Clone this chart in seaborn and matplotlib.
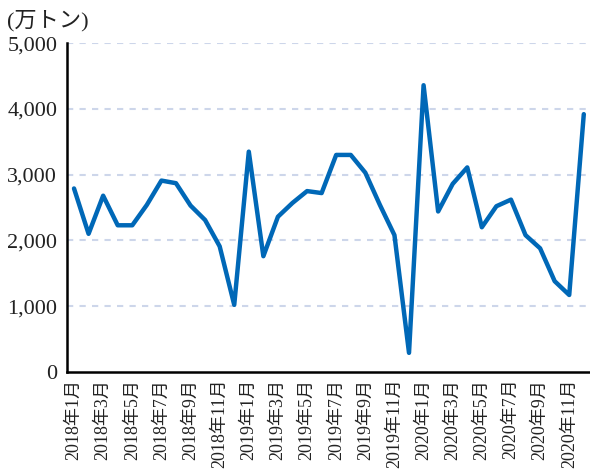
import matplotlib
matplotlib.use("Agg")
import matplotlib.pyplot as plt
import seaborn as sns
import pandas as pd

# monthly values, 2018/1 - 2020/12 (万トン)
months = [f"{y}年{m}月" for y in (2018, 2019, 2020) for m in range(1, 13)]
values = [2790, 2100, 2680, 2230, 2230, 2540, 2910, 2870, 2530, 2310, 1910, 1020,
          3350, 1760, 2360, 2570, 2750, 2720, 3300, 3300, 3030, 2540, 2080, 290,
          4360, 2440, 2860, 3110, 2200, 2520, 2620, 2080, 1880, 1380, 1170, 3920]
yticks = [0, 1000, 2000, 3000, 4000, 5000]
unit_label = "(万トン)"

df = pd.DataFrame({"idx": range(len(months)), "month": months, "value": values})

sns.set_style("white")
plt.rcParams["font.family"] = ["Liberation Serif", "Noto Sans CJK JP"]

fig = plt.figure(figsize=(5.9, 4.69), dpi=100)
ax = fig.add_axes([0.1136, 0.207, 0.886, 0.701])

sns.lineplot(data=df, x="idx", y="value", ax=ax, color="#0068b7", linewidth=3.2)

ax.set_xlim(-0.48, 35.41)
ax.set_ylim(0, 5000)
ax.set_yticks(yticks)
ax.set_yticklabels([f"{v:,}" for v in yticks], fontsize=16, color="#222222")
ax.set_xticks(df["idx"][::2])
ax.set_xticklabels(df["month"][::2], rotation=90, fontsize=13, color="#222222")
ax.tick_params(length=0)
ax.tick_params(axis="x", pad=5)
ax.tick_params(axis="y", pad=7)
ax.set_xlabel("")
ax.set_ylabel("")

for v in yticks[1:]:
    ax.axhline(v, color="#cdd6ea", linestyle=(0, (3, 3)), linewidth=1.5, zorder=0)

sns.despine(ax=ax, top=True, right=True)
for side in ("left", "bottom"):
    ax.spines[side].set_color("black")
    ax.spines[side].set_linewidth(1.8)

fig.text(0.012, 0.955, unit_label, fontsize=16, color="#222222", va="center", ha="left")

fig.savefig("out.png", dpi=100)
